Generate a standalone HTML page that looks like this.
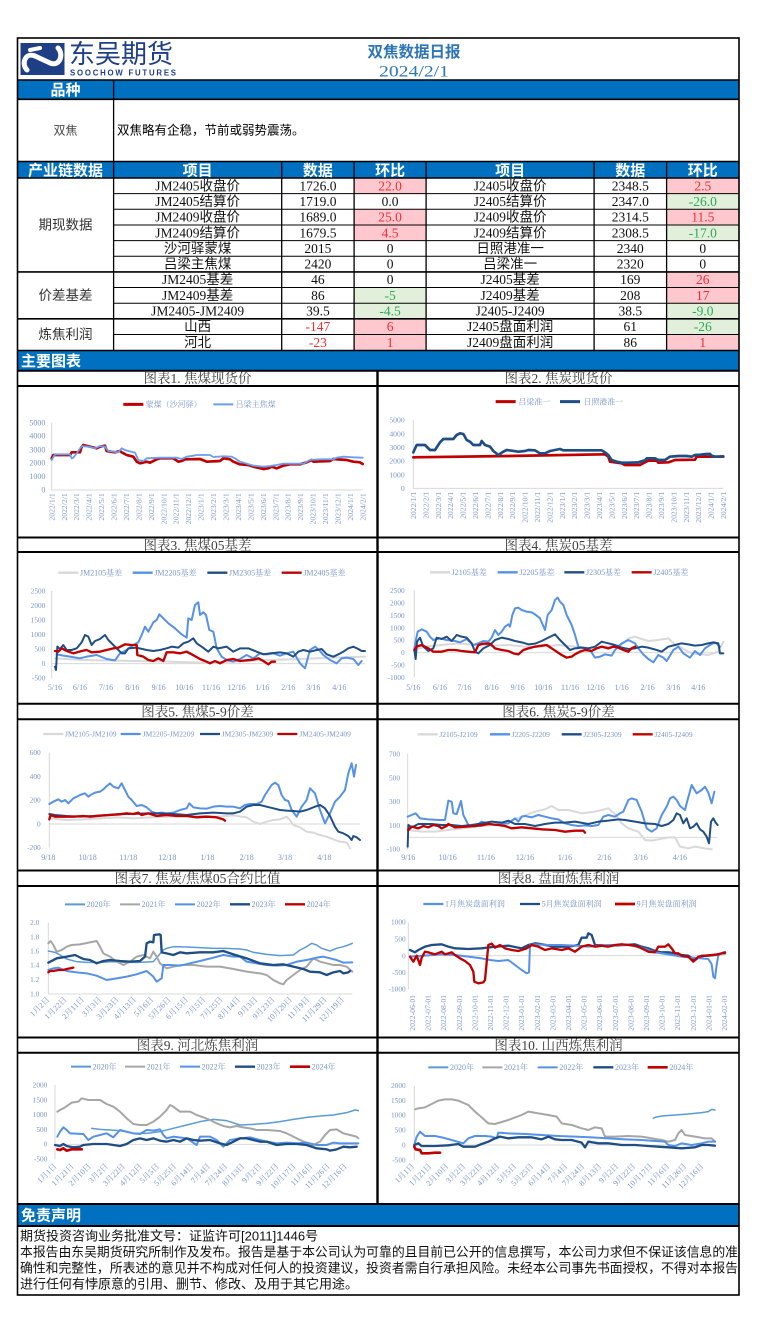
<!DOCTYPE html>
<html><head><meta charset="utf-8">
<style>
html,body{margin:0;padding:0;background:#fff;}
body{width:757px;height:1329px;overflow:hidden;position:relative;}
svg{position:absolute;left:0;top:0;}
.cj{font-family:"Liberation Sans","Noto Sans CJK SC",sans-serif;}
.sf{font-family:"Liberation Serif","Noto Serif CJK SC",serif;}
.tb{font-family:"Liberation Serif","Noto Sans CJK SC",sans-serif;font-size:13.5px;fill:#111;}
.hd{font-family:"Liberation Sans","Noto Sans CJK SC",sans-serif;font-size:15px;font-weight:bold;fill:#fff;}
.tk{font-family:"Liberation Serif","Noto Serif CJK SC",serif;fill:#7896CA;}
.ct{font-family:"Liberation Serif","Noto Serif CJK SC",serif;font-size:13.5px;fill:#404040;}
.s{fill:none;stroke-linejoin:round;stroke-linecap:round;}
</style></head><body>
<svg width="757" height="1329" viewBox="0 0 757 1329" xmlns="http://www.w3.org/2000/svg">
<!-- backgrounds -->
<rect x="17.5" y="80" width="721.5" height="19.3" fill="#0070C0"/>
<rect x="17.5" y="161.5" width="721.5" height="16.5" fill="#0070C0"/>
<rect x="17.5" y="350.5" width="721.5" height="20.2" fill="#0070C0"/>
<rect x="17.5" y="1204" width="721.5" height="22" fill="#0070C0"/>
<!-- pink/green cells -->
<g fill="#FFC7CE">
<rect x="354.1" y="178" width="72" height="15.65"/>
<rect x="354.1" y="209.3" width="72" height="15.65"/>
<rect x="354.1" y="224.95" width="72" height="15.65"/>
<rect x="666.6" y="178" width="72.4" height="15.65"/>
<rect x="666.6" y="209.3" width="72.4" height="15.65"/>
<rect x="666.6" y="271.9" width="72.4" height="15.65"/>
<rect x="666.6" y="287.55" width="72.4" height="15.65"/>
<rect x="354.1" y="318.85" width="72" height="15.65"/>
<rect x="354.1" y="334.5" width="72" height="15.65"/>
<rect x="666.6" y="334.5" width="72.4" height="15.65"/>
</g>
<g fill="#E2EFDA">
<rect x="666.6" y="193.65" width="72.4" height="15.65"/>
<rect x="666.6" y="224.95" width="72.4" height="15.65"/>
<rect x="354.1" y="287.55" width="72" height="15.65"/>
<rect x="354.1" y="303.2" width="72" height="15.65"/>
<rect x="666.6" y="303.2" width="72.4" height="15.65"/>
<rect x="666.6" y="318.85" width="72.4" height="15.65"/>
</g>

<!-- table lines -->
<g stroke="#000" fill="none">
<rect x="17.5" y="38" width="721.5" height="1257" stroke-width="1.6"/>
<path d="M17.5 80H739M17.5 99.3H739M17.5 161.5H739M17.5 178H739M17.5 271.9H739M17.5 318.85H739M17.5 350.5H739" stroke-width="1.6"/>
<path d="M113.6 193.65H739M113.6 209.3H739M113.6 224.95H739M113.6 240.6H739M113.6 256.25H739M113.6 287.55H739M113.6 303.2H739M113.6 334.5H739" stroke-width="1"/>
<path d="M113.6 80V350.5M281.7 161.5V350.5M354.1 161.5V350.5M426.1 161.5V350.5M594.1 161.5V350.5M666.6 161.5V350.5" stroke-width="1.3"/>
<!-- chart grid -->
<path d="M17.5 370.7H739M17.5 386H739M17.5 537.5H739M17.5 552H739M17.5 703.8H739M17.5 719.3H739M17.5 870.5H739M17.5 886H739M17.5 1037.5H739M17.5 1052.7H739M17.5 1204H739M17.5 1226H739" stroke-width="2"/>
<path d="M377.5 370.7V1204" stroke-width="2.4"/>
</g>

<!-- logo -->
<rect x="20.5" y="43" width="44" height="32" fill="#1E3F86"/>
<path d="M27 70 C21 64 25 52 35 56 L50 63 C60 67 64 54 58 48" stroke="#fff" stroke-width="5" fill="none" stroke-linecap="round"/>
<path d="M30 50 L40 48" stroke="#fff" stroke-width="4" fill="none" stroke-linecap="round"/>
<text x="69" y="63" class="cj" font-size="26" fill="#1E3F86">东吴期货</text>
<text x="70" y="75.5" class="cj" font-size="7.8" font-weight="bold" fill="#1E3F86" textLength="106" lengthAdjust="spacing">SOOCHOW FUTURES</text>
<text x="414" y="57" class="cj" font-size="15.5" font-weight="bold" fill="#2E75B6" text-anchor="middle">双焦数据日报</text>
<text x="414" y="76.5" class="sf" font-size="16" fill="#2E75B6" text-anchor="middle" textLength="70" lengthAdjust="spacingAndGlyphs">2024/2/1</text>

<!-- table text -->
<text x="65.5" y="95" class="hd" text-anchor="middle">品种</text>
<text x="65.5" y="134.5" class="cj" font-size="12" fill="#444" text-anchor="middle">双焦</text>
<text x="117" y="134.5" class="cj" font-size="12.5" fill="#000">双焦略有企稳，节前或弱势震荡。</text>
<g class="hd" text-anchor="middle">
<text x="65.5" y="175.5">产业链数据</text>
<text x="197.6" y="175.5">项目</text>
<text x="317.9" y="175.5">数据</text>
<text x="390.1" y="175.5">环比</text>
<text x="510.1" y="175.5">项目</text>
<text x="630.3" y="175.5">数据</text>
<text x="702.8" y="175.5">环比</text>
</g>
<g class="tb" text-anchor="middle">
<text x="65.5" y="229.5" fill="#333">期现数据</text>
<text x="65.5" y="299.9" fill="#333">价差基差</text>
<text x="65.5" y="339" fill="#333">炼焦利润</text>

<text x="197.6" y="190.5">JM2405收盘价</text><text x="317.9" y="190.5">1726.0</text><text x="390.1" y="190.5" fill="#F03030">22.0</text>
<text x="510.1" y="190.5">J2405收盘价</text><text x="630.3" y="190.5">2348.5</text><text x="702.8" y="190.5" fill="#F03030">2.5</text>

<text x="197.6" y="206">JM2405结算价</text><text x="317.9" y="206">1719.0</text><text x="390.1" y="206">0.0</text>
<text x="510.1" y="206">J2405结算价</text><text x="630.3" y="206">2347.0</text><text x="702.8" y="206" fill="#2EA85A">-26.0</text>

<text x="197.6" y="221.7">JM2409收盘价</text><text x="317.9" y="221.7">1689.0</text><text x="390.1" y="221.7" fill="#F03030">25.0</text>
<text x="510.1" y="221.7">J2409收盘价</text><text x="630.3" y="221.7">2314.5</text><text x="702.8" y="221.7" fill="#F03030">11.5</text>

<text x="197.6" y="237.3">JM2409结算价</text><text x="317.9" y="237.3">1679.5</text><text x="390.1" y="237.3" fill="#F03030">4.5</text>
<text x="510.1" y="237.3">J2409结算价</text><text x="630.3" y="237.3">2308.5</text><text x="702.8" y="237.3" fill="#2EA85A">-17.0</text>

<text x="197.6" y="253">沙河驿蒙煤</text><text x="317.9" y="253">2015</text><text x="390.1" y="253">0</text>
<text x="510.1" y="253">日照港准一</text><text x="630.3" y="253">2340</text><text x="702.8" y="253">0</text>

<text x="197.6" y="268.6">吕梁主焦煤</text><text x="317.9" y="268.6">2420</text><text x="390.1" y="268.6">0</text>
<text x="510.1" y="268.6">吕梁准一</text><text x="630.3" y="268.6">2320</text><text x="702.8" y="268.6">0</text>

<text x="197.6" y="284.2">JM2405基差</text><text x="317.9" y="284.2">46</text><text x="390.1" y="284.2">0</text>
<text x="510.1" y="284.2">J2405基差</text><text x="630.3" y="284.2">169</text><text x="702.8" y="284.2" fill="#F03030">26</text>

<text x="197.6" y="299.9">JM2409基差</text><text x="317.9" y="299.9">86</text><text x="390.1" y="299.9" fill="#2EA85A">-5</text>
<text x="510.1" y="299.9">J2409基差</text><text x="630.3" y="299.9">208</text><text x="702.8" y="299.9" fill="#F03030">17</text>

<text x="197.6" y="315.5">JM2405-JM2409</text><text x="317.9" y="315.5">39.5</text><text x="390.1" y="315.5" fill="#2EA85A">-4.5</text>
<text x="510.1" y="315.5">J2405-J2409</text><text x="630.3" y="315.5">38.5</text><text x="702.8" y="315.5" fill="#2EA85A">-9.0</text>

<text x="197.6" y="331.2">山西</text><text x="317.9" y="331.2" fill="#F03030">-147</text><text x="390.1" y="331.2" fill="#F03030">6</text>
<text x="510.1" y="331.2">J2405盘面利润</text><text x="630.3" y="331.2">61</text><text x="702.8" y="331.2" fill="#2EA85A">-26</text>

<text x="197.6" y="346.8">河北</text><text x="317.9" y="346.8" fill="#F03030">-23</text><text x="390.1" y="346.8" fill="#F03030">1</text>
<text x="510.1" y="346.8">J2409盘面利润</text><text x="630.3" y="346.8">86</text><text x="702.8" y="346.8" fill="#F03030">1</text>
</g>
<text x="21" y="366" class="hd">主要图表</text>

<!-- chart titles -->
<g class="ct" text-anchor="middle">
<text x="197.5" y="383">图表1. 焦煤现货价</text>
<text x="558.5" y="383">图表2. 焦炭现货价</text>
<text x="197.5" y="549.8">图表3. 焦煤05基差</text>
<text x="558.5" y="549.8">图表4. 焦炭05基差</text>
<text x="197.5" y="716.3">图表5. 焦煤5-9价差</text>
<text x="558.5" y="716.3">图表6. 焦炭5-9价差</text>
<text x="197.5" y="883">图表7. 焦炭/焦煤05合约比值</text>
<text x="558.5" y="883">图表8. 盘面炼焦利润</text>
<text x="197.5" y="1049.8">图表9. 河北炼焦利润</text>
<text x="558.5" y="1049.8">图表10. 山西炼焦利润</text>
</g>

<!-- CHART 1 -->
<g transform="translate(0,365) scale(0.33333)">
<path d="M155 173V375H1088" stroke="#D9D9D9" stroke-width="3" fill="none"/>
<g class="tk" font-size="24" text-anchor="end">
<text x="136" y="181">5000</text><text x="136" y="221">4000</text><text x="136" y="262">3000</text><text x="136" y="302">2000</text><text x="136" y="342">1000</text><text x="136" y="383">0</text>
</g>
<line x1="370" x2="430" y1="118" y2="118" stroke="#C00000" stroke-width="9"/>
<text x="437" y="126" class="tk" font-size="24">蒙煤（沙河驿）</text>
<line x1="640" x2="700" y1="118" y2="118" stroke="#6A9EF0" stroke-width="6"/>
<text x="707" y="126" class="tk" font-size="24">吕梁主焦煤</text>
<g class="tk" font-size="23" text-anchor="end">
<text transform="translate(163,385) rotate(-90)">2022/1/1</text>
<text transform="translate(200.3,385) rotate(-90)">2022/2/1</text>
<text transform="translate(237.6,385) rotate(-90)">2022/3/1</text>
<text transform="translate(275,385) rotate(-90)">2022/4/1</text>
<text transform="translate(312.3,385) rotate(-90)">2022/5/1</text>
<text transform="translate(349.6,385) rotate(-90)">2022/6/1</text>
<text transform="translate(386.9,385) rotate(-90)">2022/7/1</text>
<text transform="translate(424.2,385) rotate(-90)">2022/8/1</text>
<text transform="translate(461.6,385) rotate(-90)">2022/9/1</text>
<text transform="translate(498.9,385) rotate(-90)">2022/10/1</text>
<text transform="translate(536.2,385) rotate(-90)">2022/11/1</text>
<text transform="translate(573.5,385) rotate(-90)">2022/12/1</text>
<text transform="translate(610.8,385) rotate(-90)">2023/1/1</text>
<text transform="translate(648.2,385) rotate(-90)">2023/2/1</text>
<text transform="translate(685.5,385) rotate(-90)">2023/3/1</text>
<text transform="translate(722.8,385) rotate(-90)">2023/4/1</text>
<text transform="translate(760.1,385) rotate(-90)">2023/5/1</text>
<text transform="translate(797.4,385) rotate(-90)">2023/6/1</text>
<text transform="translate(834.8,385) rotate(-90)">2023/7/1</text>
<text transform="translate(872.1,385) rotate(-90)">2023/8/1</text>
<text transform="translate(909.4,385) rotate(-90)">2023/9/1</text>
<text transform="translate(946.7,385) rotate(-90)">2023/10/1</text>
<text transform="translate(984,385) rotate(-90)">2023/11/1</text>
<text transform="translate(1021.4,385) rotate(-90)">2023/12/1</text>
<text transform="translate(1058.7,385) rotate(-90)">2024/1/1</text>
<text transform="translate(1096,385) rotate(-90)">2024/2/1</text>
</g>
<polyline class="s" stroke="#C00000" stroke-width="8" points="155,280 160,270 210,270 215,262 240,262 245,245 250,240 290,250 300,245 315,242 320,258 345,262 360,258 365,262 380,270 400,275 410,290 420,295 440,290 450,293 460,288 470,283 480,280 520,280 535,290 545,288 555,283 600,282 620,290 660,288 670,280 690,283 700,290 720,298 745,300 760,305 790,312 805,310 815,305 830,310 850,302 870,298 900,298 920,292 935,285 940,290 990,288 1000,282 1040,285 1060,290 1080,292 1088,297"/>
<polyline class="s" stroke="#6A9EF0" stroke-width="5.5" points="155,285 165,268 210,268 215,280 220,278 230,265 245,243 265,245 285,250 300,243 315,245 325,258 355,262 365,250 375,255 385,258 405,263 415,285 430,288 440,280 480,278 530,278 545,282 560,275 580,272 590,270 630,270 640,276 670,274 695,275 705,280 720,290 740,296 760,302 790,305 810,303 830,300 850,296 880,296 910,296 930,285 960,283 1000,283 1010,278 1030,275 1060,277 1088,278"/>
</g>

<!-- CHART 2 -->
<g transform="translate(375,365) scale(0.33333)">
<path d="M115 165V370H1045" stroke="#D9D9D9" stroke-width="3" fill="none"/>
<g class="tk" font-size="23" text-anchor="end">
<text x="89" y="173">5000</text><text x="89" y="214">4000</text><text x="89" y="255">3000</text><text x="89" y="296">2000</text><text x="89" y="337">1000</text><text x="89" y="378">0</text>
</g>
<line x1="362" x2="422" y1="110" y2="110" stroke="#C00000" stroke-width="9"/>
<text x="430" y="118" class="tk" font-size="24">吕梁准一</text>
<line x1="555" x2="615" y1="110" y2="110" stroke="#1F4E85" stroke-width="9"/>
<text x="625" y="118" class="tk" font-size="24">日照港准一</text>
<g class="tk" font-size="23" text-anchor="end">
<text transform="translate(123,380) rotate(-90)">2022/1/1</text>
<text transform="translate(160.2,380) rotate(-90)">2022/2/1</text>
<text transform="translate(197.4,380) rotate(-90)">2022/3/1</text>
<text transform="translate(234.6,380) rotate(-90)">2022/4/1</text>
<text transform="translate(271.8,380) rotate(-90)">2022/5/1</text>
<text transform="translate(309,380) rotate(-90)">2022/6/1</text>
<text transform="translate(346.2,380) rotate(-90)">2022/7/1</text>
<text transform="translate(383.4,380) rotate(-90)">2022/8/1</text>
<text transform="translate(420.6,380) rotate(-90)">2022/9/1</text>
<text transform="translate(457.8,380) rotate(-90)">2022/10/1</text>
<text transform="translate(495,380) rotate(-90)">2022/11/1</text>
<text transform="translate(532.2,380) rotate(-90)">2022/12/1</text>
<text transform="translate(569.4,380) rotate(-90)">2023/1/1</text>
<text transform="translate(606.6,380) rotate(-90)">2023/2/1</text>
<text transform="translate(643.8,380) rotate(-90)">2023/3/1</text>
<text transform="translate(681,380) rotate(-90)">2023/4/1</text>
<text transform="translate(718.2,380) rotate(-90)">2023/5/1</text>
<text transform="translate(755.4,380) rotate(-90)">2023/6/1</text>
<text transform="translate(792.6,380) rotate(-90)">2023/7/1</text>
<text transform="translate(829.8,380) rotate(-90)">2023/8/1</text>
<text transform="translate(867,380) rotate(-90)">2023/9/1</text>
<text transform="translate(904.2,380) rotate(-90)">2023/10/1</text>
<text transform="translate(941.4,380) rotate(-90)">2023/11/1</text>
<text transform="translate(978.6,380) rotate(-90)">2023/12/1</text>
<text transform="translate(1015.8,380) rotate(-90)">2024/1/1</text>
<text transform="translate(1053,380) rotate(-90)">2024/2/1</text>
</g>
<polyline class="s" stroke="#C00000" stroke-width="8" points="115,277 400,273 690,268 700,275 705,290 740,295 750,300 795,300 800,297 810,292 820,287 845,287 850,293 880,292 900,285 960,284 965,275 1000,275 1045,275"/>
<polyline class="s" stroke="#1F4E85" stroke-width="8" points="115,262 125,240 150,240 165,255 180,255 195,232 205,222 235,222 245,210 255,205 265,207 275,225 285,230 295,240 315,240 320,228 330,240 345,245 355,258 370,270 385,260 395,255 410,257 430,260 450,258 460,255 480,256 495,265 510,265 525,258 540,255 555,252 565,256 580,256 600,256 680,256 690,262 700,270 710,285 725,290 740,293 760,293 790,292 810,286 815,280 840,280 850,285 870,285 885,275 910,273 935,273 950,275 960,270 975,269 995,267 1005,267 1010,272 1020,275 1045,274"/>
</g>

<!-- CHART 3 -->
<g transform="translate(0,535) scale(0.33333)">
<path d="M155 168V430M155 386H1095" stroke="#D9D9D9" stroke-width="3" fill="none"/>
<g class="tk" font-size="22" text-anchor="end">
<text x="136" y="175">2500</text><text x="136" y="219">2000</text><text x="136" y="262">1500</text><text x="136" y="306">1000</text><text x="136" y="350">500</text><text x="136" y="393">0</text><text x="136" y="437">-500</text>
</g>
<g class="tk" font-size="24" text-anchor="middle">
<text x="165" y="465">5/16</text><text x="240" y="465">6/16</text><text x="318" y="465">7/16</text><text x="397" y="465">8/16</text><text x="476" y="465">9/16</text><text x="553" y="465">10/16</text><text x="633" y="465">11/16</text><text x="710" y="465">12/16</text><text x="787" y="465">1/16</text><text x="865" y="465">2/16</text><text x="940" y="465">3/16</text><text x="1018" y="465">4/16</text>
</g>
<line x1="175" x2="235" y1="113" y2="113" stroke="#D9D9D9" stroke-width="7"/><text x="240" y="121" class="tk" font-size="24">JM2105基差</text>
<line x1="398" x2="458" y1="113" y2="113" stroke="#5691E8" stroke-width="7"/><text x="463" y="121" class="tk" font-size="24">JM2205基差</text>
<line x1="622" x2="682" y1="113" y2="113" stroke="#1F4E85" stroke-width="7"/><text x="687" y="121" class="tk" font-size="24">JM2305基差</text>
<line x1="845" x2="905" y1="113" y2="113" stroke="#C00000" stroke-width="7"/><text x="910" y="121" class="tk" font-size="24">JM2405基差</text>
<polyline class="s" stroke="#D9D9D9" stroke-width="6" points="165,370 250,375 400,378 500,380 600,383 700,380 800,375 900,372 1000,368 1095,365"/>
<polyline class="s" stroke="#5691E8" stroke-width="6" points="170,358 190,362 210,365 240,370 260,365 290,360 320,372 345,376 360,355 380,345 400,330 415,322 425,300 435,275 445,290 460,262 470,255 478,238 490,250 505,265 525,280 545,298 560,308 565,250 575,255 585,210 595,202 600,240 610,232 618,240 628,285 640,290 650,340 665,365 680,375 700,380 720,372 740,360 760,370 780,355 800,358 820,355 840,362 860,355 880,350 900,385 915,400 930,345 945,335 960,348 970,360 990,375 1010,385 1025,370 1040,368 1060,372 1075,390 1085,378"/>
<polyline class="s" stroke="#1F4E85" stroke-width="6" points="165,395 168,405 172,335 180,342 190,330 200,345 215,345 230,340 245,322 255,300 265,305 275,330 285,318 300,312 315,300 325,315 340,330 355,345 365,355 375,355 385,340 410,338 440,345 460,348 480,345 500,340 515,335 535,338 550,325 565,320 580,310 590,325 605,335 625,350 640,335 655,340 680,335 700,350 720,340 745,340 770,350 790,358 810,355 840,352 860,355 880,365 895,350 910,345 930,350 950,345 965,342 980,358 1000,365 1015,358 1030,350 1045,340 1060,335 1075,342 1085,348 1095,348"/>
<polyline class="s" stroke="#C00000" stroke-width="7" points="165,348 175,350 185,340 200,348 220,355 245,348 260,345 275,352 300,350 320,345 340,340 355,338 375,328 395,330 410,330 412,360 430,365 445,375 460,378 475,370 490,378 500,352 520,352 540,355 560,350 575,358 600,372 615,378 630,385 645,378 660,385 680,375 700,372 720,378 740,376 760,374 775,370 790,378 805,388 815,380 825,380"/>
</g>

<!-- CHART 4 -->
<g transform="translate(375,535) scale(0.33333)">
<path d="M118 167V428M118 353H1045" stroke="#D9D9D9" stroke-width="3" fill="none"/>
<g class="tk" font-size="22" text-anchor="end">
<text x="89" y="174">2500</text><text x="89" y="211">2000</text><text x="89" y="249">1500</text><text x="89" y="286">1000</text><text x="89" y="323">500</text><text x="89" y="360">0</text><text x="89" y="398">-500</text><text x="89" y="435">-1000</text>
</g>
<g class="tk" font-size="24" text-anchor="middle">
<text x="115" y="465">5/16</text><text x="195" y="465">6/16</text><text x="268" y="465">7/16</text><text x="350" y="465">8/16</text><text x="428" y="465">9/16</text><text x="505" y="465">10/16</text><text x="585" y="465">11/16</text><text x="662" y="465">12/16</text><text x="740" y="465">1/16</text><text x="818" y="465">2/16</text><text x="895" y="465">3/16</text><text x="970" y="465">4/16</text>
</g>
<line x1="165" x2="225" y1="112" y2="112" stroke="#D9D9D9" stroke-width="7"/><text x="230" y="120" class="tk" font-size="24">J2105基差</text>
<line x1="368" x2="428" y1="112" y2="112" stroke="#5691E8" stroke-width="7"/><text x="433" y="120" class="tk" font-size="24">J2205基差</text>
<line x1="568" x2="628" y1="112" y2="112" stroke="#1F4E85" stroke-width="7"/><text x="633" y="120" class="tk" font-size="24">J2305基差</text>
<line x1="770" x2="830" y1="112" y2="112" stroke="#C00000" stroke-width="7"/><text x="835" y="120" class="tk" font-size="24">J2405基差</text>
<polyline class="s" stroke="#D9D9D9" stroke-width="6" points="118,345 150,335 200,330 250,325 300,330 350,332 400,330 450,335 500,335 550,330 600,335 650,340 700,335 740,330 760,310 780,305 800,312 820,318 850,315 880,310 900,328 950,355 1000,360 1030,350 1045,320"/>
<polyline class="s" stroke="#5691E8" stroke-width="6" points="118,340 122,318 128,290 140,283 155,290 165,305 175,315 195,310 215,315 240,318 255,322 275,312 295,330 310,325 325,318 340,320 350,308 360,285 370,300 380,290 390,275 400,268 405,275 412,240 420,220 430,218 440,225 455,230 470,232 480,238 495,250 510,285 518,240 530,225 540,195 548,188 555,200 565,210 575,240 590,270 600,300 610,335 630,340 645,345 660,368 675,365 690,358 710,362 720,345 740,325 760,315 780,325 790,340 805,358 820,372 835,382 850,360 865,368 875,378 885,362 895,345 910,335 925,355 945,368 960,348 975,360 990,340 1005,330 1020,322 1035,335"/>
<polyline class="s" stroke="#1F4E85" stroke-width="6" points="118,345 122,372 126,320 135,308 145,335 160,348 175,340 185,308 200,312 215,305 230,318 245,300 260,305 275,308 290,325 300,350 310,355 325,340 345,330 360,315 380,308 400,312 420,318 440,322 460,328 480,326 500,318 520,308 540,298 555,315 570,330 585,345 600,340 620,338 640,340 660,335 680,320 700,325 720,330 740,338 760,342 780,340 800,335 820,338 845,345 860,350 880,335 900,330 920,325 940,328 960,332 980,330 1000,325 1015,322 1030,325 1035,355 1045,355"/>
<polyline class="s" stroke="#C00000" stroke-width="7" points="118,345 125,335 140,330 160,340 175,350 200,350 220,345 240,345 260,348 280,350 300,352 310,330 325,326 345,326 355,335 360,340 380,345 400,348 415,355 430,358 445,345 460,340 480,335 500,332 515,330 530,340 545,350 560,360 575,368 590,365 600,358 615,350 630,345 650,348 665,340 680,335 700,340 715,335 730,338 745,345 760,350 770,340 780,335"/>
</g>

<!-- CHART 5 -->
<g transform="translate(0,700) scale(0.33333)">
<path d="M148 158V443M148 372H1080" stroke="#D9D9D9" stroke-width="3" fill="none"/>
<g class="tk" font-size="22" text-anchor="end">
<text x="122" y="165">600</text><text x="122" y="237">400</text><text x="122" y="308">200</text><text x="122" y="379">0</text><text x="122" y="450">-200</text>
</g>
<g class="tk" font-size="24" text-anchor="middle">
<text x="145" y="480">9/18</text><text x="263" y="480">10/18</text><text x="385" y="480">11/18</text><text x="502" y="480">12/18</text><text x="622" y="480">1/18</text><text x="740" y="480">2/18</text><text x="855" y="480">3/18</text><text x="973" y="480">4/18</text>
</g>
<line x1="130" x2="190" y1="102" y2="102" stroke="#D9D9D9" stroke-width="7"/><text x="195" y="110" class="tk" font-size="22.5">JM2105-JM2109</text>
<line x1="362" x2="422" y1="102" y2="102" stroke="#5691E8" stroke-width="7"/><text x="428" y="110" class="tk" font-size="22.5">JM2205-JM2209</text>
<line x1="600" x2="660" y1="102" y2="102" stroke="#1F4E85" stroke-width="7"/><text x="665" y="110" class="tk" font-size="22.5">JM2305-JM2309</text>
<line x1="832" x2="892" y1="102" y2="102" stroke="#C00000" stroke-width="7"/><text x="898" y="110" class="tk" font-size="22.5">JM2405-JM2409</text>
<polyline class="s" stroke="#D9D9D9" stroke-width="6" points="148,355 200,360 250,358 300,355 350,352 400,355 450,352 500,350 550,350 600,348 650,350 700,346 740,352 760,365 780,372 800,365 820,360 840,358 860,350 870,360 880,375 900,382 920,395 940,398 960,405 980,410 1000,418 1020,425 1040,428 1050,445"/>
<polyline class="s" stroke="#5691E8" stroke-width="6" points="148,312 160,305 175,298 185,305 195,300 205,310 220,295 240,285 255,280 265,290 275,283 285,278 300,275 310,268 318,260 330,250 340,260 355,265 365,250 375,270 385,290 395,300 410,318 425,315 440,322 455,335 470,340 485,338 500,340 520,338 540,330 560,325 568,310 580,322 600,325 620,326 640,320 660,318 680,320 700,320 720,325 735,315 750,312 770,312 785,305 795,285 805,270 815,255 825,248 835,255 845,285 855,300 865,303 875,330 890,350 905,320 920,300 930,265 945,280 960,330 975,370 990,340 1005,305 1020,290 1035,270 1045,220 1055,190 1062,230 1068,195"/>
<polyline class="s" stroke="#1F4E85" stroke-width="6" points="148,342 165,345 200,348 240,350 280,348 320,345 360,342 400,342 440,340 480,340 520,342 560,345 600,340 640,338 680,340 700,340 720,335 740,320 760,315 780,315 800,320 820,325 840,330 860,332 880,333 900,335 920,330 945,320 960,315 975,325 990,348 1005,380 1015,395 1030,400 1045,408 1055,420 1060,408 1070,412 1080,420"/>
<polyline class="s" stroke="#C00000" stroke-width="7" points="148,358 152,345 165,350 190,350 220,350 250,348 270,350 300,347 330,345 360,343 380,340 400,342 415,338 425,345 445,340 470,348 500,345 530,348 560,348 590,352 620,350 650,352 670,358 675,362"/>
</g>

<!-- CHART 6 -->
<g transform="translate(375,700) scale(0.33333)">
<path d="M98 162V448M98 412H1028" stroke="#D9D9D9" stroke-width="3" fill="none"/>
<g class="tk" font-size="22" text-anchor="end">
<text x="75" y="169">700</text><text x="75" y="241">500</text><text x="75" y="312">300</text><text x="75" y="384">100</text><text x="75" y="455">-100</text>
</g>
<g class="tk" font-size="24" text-anchor="middle">
<text x="100" y="480">9/16</text><text x="218" y="480">10/16</text><text x="333" y="480">11/16</text><text x="450" y="480">12/16</text><text x="570" y="480">1/16</text><text x="688" y="480">2/16</text><text x="797" y="480">3/16</text><text x="915" y="480">4/16</text>
</g>
<line x1="128" x2="188" y1="103" y2="103" stroke="#D9D9D9" stroke-width="7"/><text x="193" y="111" class="tk" font-size="22.5">J2105-J2109</text>
<line x1="345" x2="405" y1="103" y2="103" stroke="#5691E8" stroke-width="7"/><text x="410" y="111" class="tk" font-size="22.5">J2205-J2209</text>
<line x1="560" x2="620" y1="103" y2="103" stroke="#1F4E85" stroke-width="7"/><text x="625" y="111" class="tk" font-size="22.5">J2305-J2309</text>
<line x1="773" x2="833" y1="103" y2="103" stroke="#C00000" stroke-width="7"/><text x="838" y="111" class="tk" font-size="22.5">J2405-J2409</text>
<polyline class="s" stroke="#D9D9D9" stroke-width="6" points="98,390 140,395 180,395 220,390 260,385 300,380 350,375 400,365 440,350 480,335 510,328 530,318 550,330 580,330 620,340 660,335 700,325 720,342 740,370 760,385 790,395 810,420 830,422 850,418 880,412 900,412 915,440 940,445 960,440 990,445 1010,448"/>
<polyline class="s" stroke="#5691E8" stroke-width="6" points="98,350 110,345 122,340 135,355 160,358 190,360 210,360 220,302 230,305 235,340 245,342 258,303 265,345 280,375 300,380 320,365 340,370 360,375 380,372 400,370 420,355 430,365 440,350 450,348 470,352 490,345 510,350 530,355 550,358 570,370 590,375 610,378 630,376 650,378 670,375 685,350 700,345 720,350 735,340 745,335 760,300 770,295 785,300 800,335 815,385 830,395 845,385 860,345 875,320 885,295 895,290 905,300 915,318 930,330 935,310 950,255 965,280 980,270 990,260 1000,278 1010,310 1018,275"/>
<polyline class="s" stroke="#1F4E85" stroke-width="6" points="98,440 100,375 110,382 130,372 170,372 200,375 230,375 260,378 290,375 320,370 350,365 380,368 400,362 420,372 450,372 480,378 510,372 540,368 570,368 600,365 640,372 670,365 700,362 730,358 750,360 780,365 810,370 840,372 860,378 880,372 895,360 905,340 915,345 925,370 935,355 945,385 955,380 965,370 975,388 985,395 995,410 1002,430 1008,365 1015,355 1022,368 1028,375"/>
<polyline class="s" stroke="#C00000" stroke-width="7" points="100,390 110,380 130,385 145,378 160,382 175,375 190,378 200,385 215,378 220,372 240,382 270,380 300,378 320,376 340,372 370,375 390,378 410,385 440,382 470,385 500,388 540,390 570,395 600,392 625,392 630,398"/>
</g>

<!-- CHART 7 -->
<g transform="translate(0,865) scale(0.33333)">
<path d="M145 173V387H1057" stroke="#D9D9D9" stroke-width="3" fill="none"/>
<g class="tk" font-size="22" text-anchor="end">
<text x="118" y="180">2.0</text><text x="118" y="223">1.8</text><text x="118" y="266">1.6</text><text x="118" y="308">1.4</text><text x="118" y="351">1.2</text><text x="118" y="394">1.0</text>
</g>
<g class="tk" font-size="24" text-anchor="end">
<text transform="translate(150,405) rotate(-45)">1月2日</text>
<text transform="translate(202,405) rotate(-45)">1月22日</text>
<text transform="translate(254,405) rotate(-45)">2月11日</text>
<text transform="translate(306,405) rotate(-45)">3月3日</text>
<text transform="translate(358,405) rotate(-45)">3月23日</text>
<text transform="translate(410,405) rotate(-45)">4月13日</text>
<text transform="translate(462,405) rotate(-45)">5月6日</text>
<text transform="translate(514,405) rotate(-45)">5月26日</text>
<text transform="translate(566,405) rotate(-45)">6月15日</text>
<text transform="translate(618,405) rotate(-45)">7月5日</text>
<text transform="translate(670,405) rotate(-45)">7月25日</text>
<text transform="translate(722,405) rotate(-45)">8月14日</text>
<text transform="translate(774,405) rotate(-45)">9月3日</text>
<text transform="translate(826,405) rotate(-45)">9月23日</text>
<text transform="translate(878,405) rotate(-45)">10月20日</text>
<text transform="translate(930,405) rotate(-45)">11月9日</text>
<text transform="translate(982,405) rotate(-45)">11月29日</text>
<text transform="translate(1034,405) rotate(-45)">12月19日</text>
</g>
<line x1="195" x2="255" y1="118" y2="118" stroke="#5B9BD5" stroke-width="6"/><text x="260" y="126" class="tk" font-size="24">2020年</text>
<line x1="360" x2="420" y1="118" y2="118" stroke="#A6A6A6" stroke-width="6"/><text x="425" y="126" class="tk" font-size="24">2021年</text>
<line x1="525" x2="585" y1="118" y2="118" stroke="#5691E8" stroke-width="6"/><text x="590" y="126" class="tk" font-size="24">2022年</text>
<line x1="690" x2="750" y1="118" y2="118" stroke="#1F4E85" stroke-width="7"/><text x="755" y="126" class="tk" font-size="24">2023年</text>
<line x1="855" x2="915" y1="118" y2="118" stroke="#C00000" stroke-width="7"/><text x="920" y="126" class="tk" font-size="24">2024年</text>
<polyline class="s" stroke="#5B9BD5" stroke-width="4.5" points="145,258 165,262 180,270 200,282 230,290 260,292 300,292 340,290 380,292 420,292 460,290 490,255 500,250 520,245 560,246 600,248 640,250 680,250 720,252 740,255 760,262 800,268 840,272 880,270 900,255 920,245 935,235 950,240 965,250 990,258 1010,250 1030,245 1045,240 1057,235"/>
<polyline class="s" stroke="#A6A6A6" stroke-width="6" points="145,235 152,228 160,240 170,260 185,255 200,245 215,240 240,238 270,232 290,228 300,245 310,265 330,275 350,290 370,300 390,290 410,275 430,270 450,280 460,260 470,275 480,295 500,310 520,305 545,300 580,300 620,305 660,305 700,312 740,320 780,325 800,330 820,345 840,355 850,358 860,345 880,330 900,315 920,305 940,280 960,290 980,295 1000,300 1020,300 1040,305 1057,320"/>
<polyline class="s" stroke="#5691E8" stroke-width="6" points="145,315 160,310 175,308 200,318 230,322 260,325 290,332 320,345 350,340 380,335 410,328 440,318 460,335 470,350 485,340 490,300 510,300 540,302 570,295 600,288 640,278 670,270 700,275 720,275 740,290 770,295 800,300 830,302 860,300 890,290 920,285 950,278 970,275 990,280 1010,285 1030,293 1057,292"/>
<polyline class="s" stroke="#1F4E85" stroke-width="7" points="145,293 170,280 200,275 225,270 250,282 270,285 290,295 310,288 330,285 360,288 390,290 420,288 435,275 440,235 450,230 460,232 462,210 478,208 482,210 485,262 500,265 520,270 540,262 560,265 600,262 640,262 670,258 700,268 740,280 780,295 820,300 850,298 880,305 910,312 930,320 960,322 980,330 1000,322 1020,318 1030,325 1045,322 1050,318"/>
<polyline class="s" stroke="#C00000" stroke-width="7" points="145,322 150,318 160,318 175,315 190,315 200,312 210,310 220,308"/>
</g>

<!-- CHART 8 -->
<g transform="translate(375,865) scale(0.33333)">
<path d="M100 172V373M100 272H1050" stroke="#D9D9D9" stroke-width="3" fill="none"/>
<g class="tk" font-size="22" text-anchor="end">
<text x="92" y="179">1000</text><text x="92" y="230">500</text><text x="92" y="280">0</text><text x="92" y="330">-500</text><text x="92" y="380">-1000</text>
</g>
<g class="tk" font-size="23" text-anchor="end">
<text transform="translate(120,390) rotate(-90)">2022-06-01</text>
<text transform="translate(166.8,390) rotate(-90)">2022-07-01</text>
<text transform="translate(213.6,390) rotate(-90)">2022-08-01</text>
<text transform="translate(260.4,390) rotate(-90)">2022-09-01</text>
<text transform="translate(307.2,390) rotate(-90)">2022-10-01</text>
<text transform="translate(354,390) rotate(-90)">2022-11-01</text>
<text transform="translate(400.8,390) rotate(-90)">2022-12-01</text>
<text transform="translate(447.6,390) rotate(-90)">2023-01-01</text>
<text transform="translate(494.4,390) rotate(-90)">2023-02-01</text>
<text transform="translate(541.2,390) rotate(-90)">2023-03-01</text>
<text transform="translate(588,390) rotate(-90)">2023-04-01</text>
<text transform="translate(634.8,390) rotate(-90)">2023-05-01</text>
<text transform="translate(681.6,390) rotate(-90)">2023-06-01</text>
<text transform="translate(728.4,390) rotate(-90)">2023-07-01</text>
<text transform="translate(775.2,390) rotate(-90)">2023-08-01</text>
<text transform="translate(822,390) rotate(-90)">2023-09-01</text>
<text transform="translate(868.8,390) rotate(-90)">2023-10-01</text>
<text transform="translate(915.6,390) rotate(-90)">2023-11-01</text>
<text transform="translate(962.4,390) rotate(-90)">2023-12-01</text>
<text transform="translate(1009.2,390) rotate(-90)">2024-01-01</text>
<text transform="translate(1056,390) rotate(-90)">2024-02-01</text>
</g>
<line x1="145" x2="205" y1="117" y2="117" stroke="#5691E8" stroke-width="7"/><text x="210" y="125" class="tk" font-size="24">1月焦炭盘面利润</text>
<line x1="435" x2="495" y1="117" y2="117" stroke="#1F4E85" stroke-width="7"/><text x="500" y="125" class="tk" font-size="24">5月焦炭盘面利润</text>
<line x1="720" x2="780" y1="117" y2="117" stroke="#C00000" stroke-width="8"/><text x="785" y="125" class="tk" font-size="24">9月焦炭盘面利润</text>
<polyline class="s" stroke="#1F4E85" stroke-width="7" points="105,255 120,262 130,255 150,245 170,240 200,238 220,245 240,250 280,252 320,250 360,245 400,242 440,250 460,240 480,235 500,238 540,245 580,245 610,240 620,218 635,218 640,205 650,210 660,240 700,242 750,240 780,238 800,245 820,250 840,258 860,262 880,262 900,265 920,270 940,272 960,285 980,272 1000,272 1020,270 1040,265 1050,265"/>
<polyline class="s" stroke="#5691E8" stroke-width="6" points="105,275 150,272 200,268 240,270 280,275 320,280 345,285 370,288 400,285 420,300 440,315 455,325 462,322 465,240 480,238 520,240 560,240 600,242 640,245 700,240 760,240 800,248 840,262 880,268 920,275 950,278 980,280 1000,282 1010,298 1015,335 1020,340 1025,300 1030,270 1045,262"/>
<polyline class="s" stroke="#C00000" stroke-width="7" points="105,275 115,290 125,272 135,300 140,278 150,260 160,262 180,268 200,260 210,268 230,262 240,270 255,280 270,288 285,300 295,320 298,350 310,355 325,352 330,345 340,240 350,236 360,248 375,240 390,250 410,255 430,258 455,250 470,240 490,245 510,255 530,250 560,255 580,250 600,260 620,245 640,240 660,245 680,242 700,245 720,240 740,238 760,240 780,242 800,250 820,260 840,262 850,245 870,245 880,238 890,250 900,265 910,265 920,272 940,275 955,290 970,275 990,272 1010,270 1030,268 1050,262"/>
</g>

<!-- CHART 9 -->
<g transform="translate(0,1030) scale(0.33333)">
<path d="M165 165V388M165 343H1075" stroke="#D9D9D9" stroke-width="3" fill="none"/>
<g class="tk" font-size="22" text-anchor="end">
<text x="142" y="172">2000</text><text x="142" y="217">1500</text><text x="142" y="261">1000</text><text x="142" y="306">500</text><text x="142" y="350">0</text><text x="142" y="395">-500</text>
</g>
<g class="tk" font-size="24" text-anchor="end">
<text transform="translate(172,410) rotate(-45)">1月1日</text>
<text transform="translate(223.2,410) rotate(-45)">1月21日</text>
<text transform="translate(274.4,410) rotate(-45)">2月10日</text>
<text transform="translate(325.6,410) rotate(-45)">3月2日</text>
<text transform="translate(376.8,410) rotate(-45)">3月22日</text>
<text transform="translate(428,410) rotate(-45)">4月12日</text>
<text transform="translate(479.2,410) rotate(-45)">5月5日</text>
<text transform="translate(530.4,410) rotate(-45)">5月25日</text>
<text transform="translate(581.6,410) rotate(-45)">6月14日</text>
<text transform="translate(632.8,410) rotate(-45)">7月4日</text>
<text transform="translate(684,410) rotate(-45)">7月24日</text>
<text transform="translate(735.2,410) rotate(-45)">8月13日</text>
<text transform="translate(786.4,410) rotate(-45)">9月2日</text>
<text transform="translate(837.6,410) rotate(-45)">9月22日</text>
<text transform="translate(888.8,410) rotate(-45)">10月17日</text>
<text transform="translate(940,410) rotate(-45)">11月6日</text>
<text transform="translate(991.2,410) rotate(-45)">11月26日</text>
<text transform="translate(1042.4,410) rotate(-45)">12月16日</text>
</g>
<line x1="213" x2="273" y1="110" y2="110" stroke="#5B9BD5" stroke-width="6"/><text x="278" y="118" class="tk" font-size="24">2020年</text>
<line x1="375" x2="435" y1="110" y2="110" stroke="#A6A6A6" stroke-width="6"/><text x="440" y="118" class="tk" font-size="24">2021年</text>
<line x1="540" x2="600" y1="110" y2="110" stroke="#5691E8" stroke-width="6"/><text x="605" y="118" class="tk" font-size="24">2022年</text>
<line x1="705" x2="765" y1="110" y2="110" stroke="#1F4E85" stroke-width="7"/><text x="770" y="118" class="tk" font-size="24">2023年</text>
<line x1="870" x2="930" y1="110" y2="110" stroke="#C00000" stroke-width="8"/><text x="935" y="118" class="tk" font-size="24">2024年</text>
<polyline class="s" stroke="#5B9BD5" stroke-width="4.5" points="275,295 300,298 330,300 360,302 400,310 440,310 480,305 520,295 560,285 600,275 640,268 680,272 720,285 760,283 800,280 840,275 880,268 920,262 960,258 1000,255 1040,248 1065,240 1075,242"/>
<polyline class="s" stroke="#A6A6A6" stroke-width="6" points="172,245 180,240 195,232 215,218 235,215 245,205 265,210 300,210 320,222 340,230 360,245 380,265 400,282 420,285 440,285 460,275 480,260 500,240 510,225 520,230 540,245 570,245 590,255 610,262 630,270 650,280 670,288 690,292 710,288 730,292 750,295 770,300 800,300 840,303 860,310 880,320 900,330 920,338 940,345 960,335 975,315 990,300 1010,298 1030,310 1050,315 1070,320 1075,325"/>
<polyline class="s" stroke="#5691E8" stroke-width="6" points="172,320 180,305 190,292 200,300 210,310 250,312 265,330 280,320 300,315 320,310 340,322 360,300 380,305 400,310 420,312 440,300 460,302 480,298 490,315 500,325 520,320 560,325 590,345 600,320 630,320 650,330 670,350 690,330 720,325 750,322 780,330 800,335 830,340 860,338 890,340 920,338 950,345 980,345 1000,338 1020,340 1050,340 1075,340"/>
<polyline class="s" stroke="#1F4E85" stroke-width="7" points="165,345 180,348 190,342 200,348 220,352 240,350 250,345 280,342 320,342 360,348 380,342 400,330 420,325 440,330 460,325 480,332 500,335 520,330 540,335 560,325 580,330 600,332 630,330 660,340 680,345 700,335 720,325 740,325 760,330 780,335 800,335 830,345 860,342 890,342 920,345 950,355 980,358 990,362 1010,358 1030,350 1050,352 1070,350"/>
<polyline class="s" stroke="#C00000" stroke-width="8" points="172,358 180,360 190,355 200,362 215,358 230,358 245,358"/>
</g>

<!-- CHART 10 -->
<g transform="translate(375,1030) scale(0.33333)">
<path d="M118 167V390M118 345H1020" stroke="#D9D9D9" stroke-width="3" fill="none"/>
<g class="tk" font-size="22" text-anchor="end">
<text x="92" y="174">2000</text><text x="92" y="219">1500</text><text x="92" y="263">1000</text><text x="92" y="308">500</text><text x="92" y="352">0</text><text x="92" y="397">-500</text>
</g>
<g class="tk" font-size="24" text-anchor="end">
<text transform="translate(120,410) rotate(-45)">1月1日</text>
<text transform="translate(171,410) rotate(-45)">1月21日</text>
<text transform="translate(222,410) rotate(-45)">2月10日</text>
<text transform="translate(273,410) rotate(-45)">3月2日</text>
<text transform="translate(324,410) rotate(-45)">3月22日</text>
<text transform="translate(375,410) rotate(-45)">4月12日</text>
<text transform="translate(426,410) rotate(-45)">5月5日</text>
<text transform="translate(477,410) rotate(-45)">5月25日</text>
<text transform="translate(528,410) rotate(-45)">6月14日</text>
<text transform="translate(579,410) rotate(-45)">7月4日</text>
<text transform="translate(630,410) rotate(-45)">7月24日</text>
<text transform="translate(681,410) rotate(-45)">8月13日</text>
<text transform="translate(732,410) rotate(-45)">9月2日</text>
<text transform="translate(783,410) rotate(-45)">9月22日</text>
<text transform="translate(834,410) rotate(-45)">10月17日</text>
<text transform="translate(885,410) rotate(-45)">11月6日</text>
<text transform="translate(936,410) rotate(-45)">11月26日</text>
<text transform="translate(987,410) rotate(-45)">12月16日</text>
</g>
<line x1="160" x2="220" y1="112" y2="112" stroke="#5B9BD5" stroke-width="6"/><text x="225" y="120" class="tk" font-size="24">2020年</text>
<line x1="322" x2="382" y1="112" y2="112" stroke="#A6A6A6" stroke-width="6"/><text x="387" y="120" class="tk" font-size="24">2021年</text>
<line x1="488" x2="548" y1="112" y2="112" stroke="#5691E8" stroke-width="6"/><text x="553" y="120" class="tk" font-size="24">2022年</text>
<line x1="655" x2="715" y1="112" y2="112" stroke="#1F4E85" stroke-width="7"/><text x="720" y="120" class="tk" font-size="24">2023年</text>
<line x1="818" x2="878" y1="112" y2="112" stroke="#C00000" stroke-width="8"/><text x="883" y="120" class="tk" font-size="24">2024年</text>
<polyline class="s" stroke="#5B9BD5" stroke-width="4.5" points="835,265 840,262 860,258 900,255 940,252 980,248 1000,245 1010,238 1020,240"/>
<polyline class="s" stroke="#A6A6A6" stroke-width="6" points="120,238 130,235 150,232 170,222 190,212 210,208 230,208 250,212 280,225 300,245 320,262 340,280 360,282 400,270 440,255 460,245 490,250 520,255 545,260 560,280 590,285 620,295 640,300 660,292 680,295 690,320 720,320 760,318 800,320 830,325 860,330 880,335 900,330 910,310 920,300 930,315 960,320 990,325 1010,325 1020,335"/>
<polyline class="s" stroke="#5691E8" stroke-width="6" points="118,345 125,320 135,305 150,318 180,318 200,322 230,330 265,340 280,325 300,318 330,318 350,320 365,325 370,308 400,310 450,312 500,315 550,318 600,320 650,322 700,325 750,328 800,330 840,333 870,335 880,345 900,348 920,340 950,345 980,340 1000,335 1020,335"/>
<polyline class="s" stroke="#1F4E85" stroke-width="7" points="118,345 130,340 140,348 180,348 220,346 250,342 265,350 300,350 320,342 340,335 360,325 375,320 400,325 430,322 470,322 500,328 520,320 540,328 560,330 590,330 620,338 630,352 640,335 670,340 700,340 740,345 780,345 820,348 850,350 880,352 920,355 960,352 980,345 1000,345 1020,347"/>
<polyline class="s" stroke="#C00000" stroke-width="8" points="118,350 122,358 135,360 140,370 160,370 180,368 195,368"/>
</g>

<!-- disclaimer -->
<text x="21" y="1220.5" class="hd">免责声明</text>
<g class="cj" font-size="13" fill="#111">
<text x="20" y="1240.5">期货投资咨询业务批准文号：证监许可[2011]1446号</text>
<text x="20" y="1256.5" textLength="718" lengthAdjust="spacingAndGlyphs">本报告由东吴期货研究所制作及发布。报告是基于本公司认为可靠的且目前已公开的信息撰写，本公司力求但不保证该信息的准</text>
<text x="20" y="1272.5" textLength="718" lengthAdjust="spacingAndGlyphs">确性和完整性，所表述的意见并不构成对任何人的投资建议，投资者需自行承担风险。未经本公司事先书面授权，不得对本报告</text>
<text x="20" y="1288.5">进行任何有悖原意的引用、删节、修改、及用于其它用途。</text>
</g>
</svg>
</body></html>
